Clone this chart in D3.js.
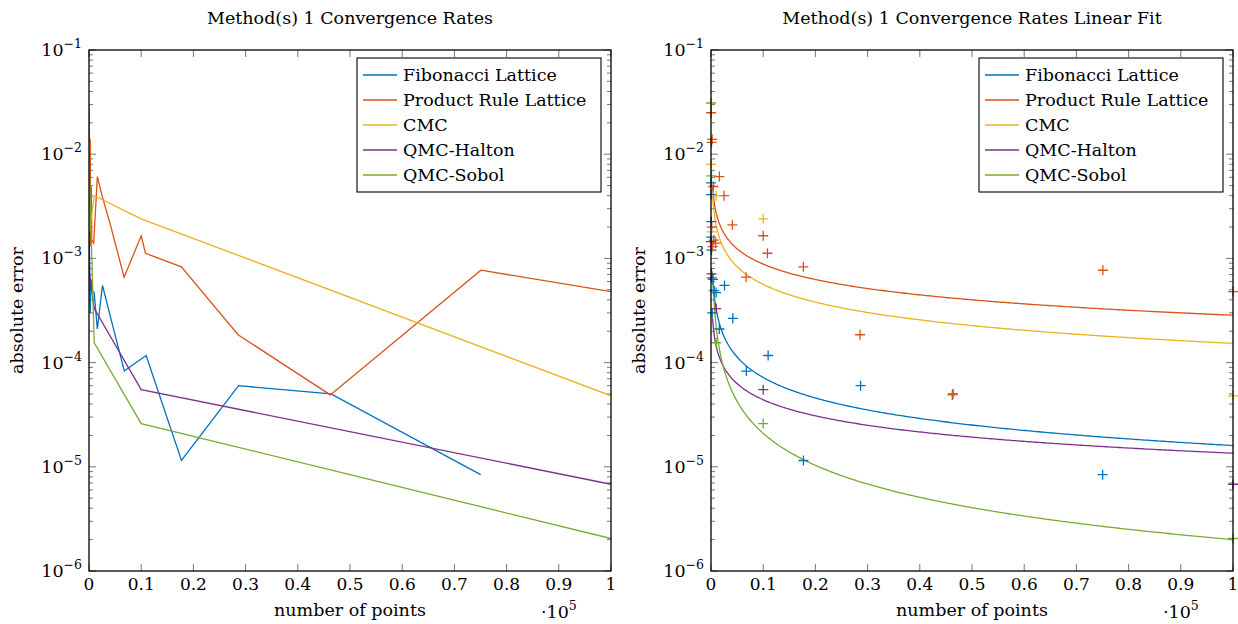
<!DOCTYPE html>
<html><head><meta charset="utf-8">
<script src="https://cdn.jsdelivr.net/npm/d3@7"></script>
<style>
body{margin:0;background:#fff}
text{font-family:"DejaVu Serif","Liberation Serif",serif;fill:#000}
</style>
</head><body>
<svg id="c" width="1238" height="624"></svg>
<script>
// ---------------- data ----------------
const methods = ["Fibonacci Lattice", "Product Rule Lattice", "CMC", "QMC-Halton", "QMC-Sobol"];
const colors = ["#0072BD", "#D95319", "#EDB120", "#7E2F8E", "#77AC30"];
const titles = ["Method(s) 1 Convergence Rates", "Method(s) 1 Convergence Rates Linear Fit"];

const fibN   = [13, 21, 34, 55, 89, 144, 233, 377, 610, 987, 1597, 2584, 4181, 6765, 10946, 17711, 28657, 46368, 75025];
const fibErr = [5.3e-3, 4.1e-3, 1.6e-3, 2.25e-3, 1.2e-3, 6.5e-4, 3.0e-4, 6.3e-4, 4.9e-4, 4.7e-4, 2.1e-4, 5.5e-4, 2.66e-4, 8.3e-5, 1.17e-4, 1.15e-5, 6.0e-5, 5.0e-5, 8.4e-6];

const prodN   = [25, 100, 144, 225, 324, 441, 529, 900, 1600, 2500, 4096, 6724, 10000, 10816, 17689, 28561, 46225, 75076, 100000];
const prodErr = [2.5e-2, 1.3e-2, 2.0e-3, 1.39e-2, 1.3e-3, 4.9e-3, 1.5e-3, 1.4e-3, 6.1e-3, 4.0e-3, 2.1e-3, 6.6e-4, 1.65e-3, 1.12e-3, 8.3e-4, 1.85e-4, 4.9e-5, 7.7e-4, 4.8e-4];

const powN      = [10, 100, 1000, 10000, 100000];
const cmcErr    = [8.0e-3, 1.8e-3, 4.0e-3, 2.4e-3, 4.8e-5];
const haltonErr = [1.45e-3, 7.1e-4, 3.3e-4, 5.5e-5, 6.8e-6];
const sobolErr  = [3.1e-2, 6.2e-3, 1.55e-4, 2.6e-5, 2.05e-6];

// linear fit in log-log space: err = fitAt1e5 * (N/1e5)^fitSlope
const fitAt1e5 = [1.6e-5, 2.85e-4, 1.53e-4, 1.35e-5, 2.0e-6];
const fitSlope = [-0.653, -0.49, -0.566, -0.513, -1.02];

const xTicks = [0, 0.1, 0.2, 0.3, 0.4, 0.5, 0.6, 0.7, 0.8, 0.9, 1];
const yTickExp = [-6, -5, -4, -3, -2, -1];

const series = [
  {N: fibN, E: fibErr},
  {N: prodN, E: prodErr},
  {N: powN, E: cmcErr},
  {N: powN, E: haltonErr},
  {N: powN, E: sobolErr}
];

// ---------------- drawing ----------------
const svg = d3.select("#c");
const panels = [{x0: 89, x1: 611}, {x0: 711, x1: 1233}];
const y0 = 50, y1 = 571;
const FS = "17.5px";

panels.forEach((p, pi) => {
  const g = svg.append("g");
  const x = d3.scaleLinear().domain([0, 1e5]).range([p.x0, p.x1]);
  const y = d3.scaleLog().domain([1e-6, 1e-1]).range([y1, y0]);
  const clipId = "clip" + pi;
  svg.append("clipPath").attr("id", clipId).append("rect")
    .attr("x", p.x0).attr("y", y0).attr("width", p.x1 - p.x0).attr("height", y1 - y0);

  // minor ticks (log)
  const minors = [];
  for (let e = -6; e < -1; e++) for (let m = 2; m <= 9; m++) minors.push(m * Math.pow(10, e));
  minors.forEach(v => {
    g.append("line").attr("x1", p.x0).attr("x2", p.x0 + 4).attr("y1", y(v)).attr("y2", y(v))
      .attr("stroke", "#777").attr("stroke-width", 1);
    g.append("line").attr("x1", p.x1).attr("x2", p.x1 - 4).attr("y1", y(v)).attr("y2", y(v))
      .attr("stroke", "#777").attr("stroke-width", 1);
  });
  yTickExp.forEach(e => {
    const v = Math.pow(10, e);
    g.append("line").attr("x1", p.x0).attr("x2", p.x0 + 7).attr("y1", y(v)).attr("y2", y(v))
      .attr("stroke", "#777").attr("stroke-width", 1);
    g.append("line").attr("x1", p.x1).attr("x2", p.x1 - 7).attr("y1", y(v)).attr("y2", y(v))
      .attr("stroke", "#777").attr("stroke-width", 1);
    const t = g.append("text").attr("x", p.x0 - 7).attr("y", y(v) + 6).attr("text-anchor", "end")
      .style("font-size", "17.5px");
    t.append("tspan").text("10");
    t.append("tspan").attr("dy", -8).style("font-size", "12.5px").text("\u2212" + (-e));
  });
  xTicks.forEach(v => {
    const xx = x(v * 1e5);
    g.append("line").attr("x1", xx).attr("x2", xx).attr("y1", y1).attr("y2", y1 - 7)
      .attr("stroke", "#777").attr("stroke-width", 1);
    g.append("line").attr("x1", xx).attr("x2", xx).attr("y1", y0).attr("y2", y0 + 7)
      .attr("stroke", "#777").attr("stroke-width", 1);
    g.append("text").attr("x", xx).attr("y", y1 + 19).attr("text-anchor", "middle")
      .style("font-size", "17px").text(d3.format("")(v));
  });

  const plot = g.append("g").attr("clip-path", `url(#${clipId})`);
  if (pi === 0) {
    series.forEach((s, i) => {
      const pts = s.N.map((n, k) => [n, s.E[k]]);
      plot.append("path").datum(pts)
        .attr("d", d3.line().x(d => x(d[0])).y(d => y(d[1])))
        .attr("fill", "none").attr("stroke", colors[i]).attr("stroke-width", 1.3);
    });
  } else {
    series.forEach((s, i) => {
      const ns = d3.range(0, 301).map(k => 300 + (1e5 - 300) * Math.pow(k / 300, 1.6));
      const pts = ns.map(n => [n, fitAt1e5[i] * Math.pow(n / 1e5, fitSlope[i])]);
      plot.append("path").datum(pts)
        .attr("d", d3.line().x(d => x(d[0])).y(d => y(d[1])))
        .attr("fill", "none").attr("stroke", colors[i]).attr("stroke-width", 1.3);
    });
    series.forEach((s, i) => {
      s.N.forEach((n, k) => {
        const cx = x(n), cy = y(s.E[k]);
        g.append("path").attr("d", `M${cx - 5},${cy}H${cx + 5}M${cx},${cy - 5}V${cy + 5}`)
          .attr("stroke", colors[i]).attr("stroke-width", 1.3).attr("fill", "none");
      });
    });
  }

  // frame
  g.append("rect").attr("x", p.x0).attr("y", y0).attr("width", p.x1 - p.x0).attr("height", y1 - y0)
    .attr("fill", "none").attr("stroke", "#000").attr("stroke-width", 1.3);

  // titles and labels
  g.append("text").attr("x", (p.x0 + p.x1) / 2).attr("y", 24).attr("text-anchor", "middle")
    .style("font-size", FS).text(titles[pi]);
  g.append("text").attr("x", (p.x0 + p.x1) / 2).attr("y", 616).attr("text-anchor", "middle")
    .style("font-size", FS).text("number of points");
  const ex = g.append("text").attr("x", p.x1 - 70).attr("y", 618).style("font-size", FS);
  ex.append("tspan").text("\u00b710");
  ex.append("tspan").attr("dy", -8).style("font-size", "12.5px").text("5");
  g.append("text").attr("transform", `translate(${p.x0 - 66},${(y0 + y1) / 2}) rotate(-90)`)
    .attr("text-anchor", "middle").style("font-size", FS).text("absolute error");

  // legend
  const lx = p.x1 - 254, ly = 58;
  g.append("rect").attr("x", lx).attr("y", ly).attr("width", 244).attr("height", 134)
    .attr("fill", "#fff").attr("stroke", "#000").attr("stroke-width", 1.1);
  methods.forEach((m, i) => {
    const yy = ly + 17 + i * 25;
    g.append("line").attr("x1", lx + 6).attr("x2", lx + 40).attr("y1", yy).attr("y2", yy)
      .attr("stroke", colors[i]).attr("stroke-width", 1.3);
    g.append("text").attr("x", lx + 46).attr("y", yy + 6).style("font-size", FS).text(m);
  });
});
</script>
</body></html>
